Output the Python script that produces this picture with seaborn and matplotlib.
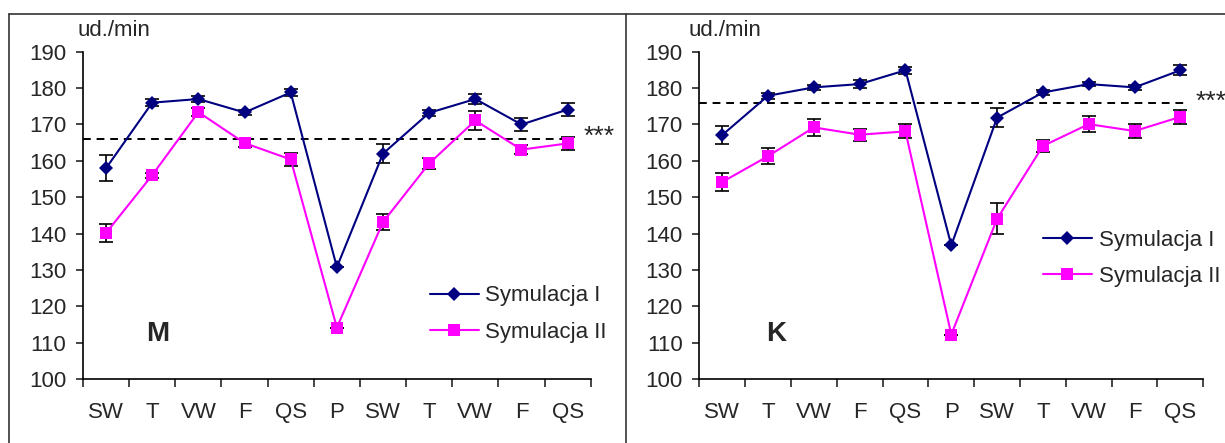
import numpy as np
import pandas as pd
import seaborn as sns
import matplotlib.pyplot as plt
from matplotlib.lines import Line2D

# categories on the x axis (same sequence for both panels)
categories = ["SW", "T", "VW", "F", "QS", "P", "SW", "T", "VW", "F", "QS"]
series_names = ["Symulacja I", "Symulacja II"]

# panel M
m_sym1 = [158.0, 176.0, 177.0, 173.3, 178.8, 130.8, 162.0, 173.2, 177.0, 170.0, 174.1]
m_sym1_err = [3.6, 0.9, 0.9, 0.8, 0.9, 0.0, 2.7, 0.9, 1.5, 1.7, 1.9]
m_sym2 = [140.2, 156.1, 173.4, 164.9, 160.4, 114.2, 143.2, 159.3, 171.1, 163.1, 164.8]
m_sym2_err = [2.5, 0.7, 1.0, 1.2, 1.8, 0.0, 2.1, 1.4, 2.5, 1.2, 1.8]
m_ref = 166.0

# panel K
k_sym1 = [167.1, 177.9, 180.2, 181.1, 184.9, 136.8, 171.9, 178.8, 181.1, 180.2, 184.9]
k_sym1_err = [2.5, 0.8, 0.6, 1.0, 1.0, 0.0, 2.7, 0.6, 0.6, 0.6, 1.4]
k_sym2 = [154.2, 161.3, 169.2, 167.2, 168.1, 112.3, 144.1, 164.1, 170.1, 168.2, 172.1]
k_sym2_err = [2.5, 2.2, 2.3, 1.6, 1.9, 0.0, 4.3, 1.6, 2.2, 1.8, 2.0]
k_ref = 176.0

colors = {"Symulacja I": "#000080", "Symulacja II": "#FF00FF"}
FONT = ["Liberation Sans", "DejaVu Sans"]
FS = 16

sns.set_style("white")
plt.rcParams['font.family'] = FONT


def make_df(s1, e1, s2, e2):
    pos = np.arange(len(categories)) + 0.5
    rows = []
    for name, vals, errs in [(series_names[0], s1, e1), (series_names[1], s2, e2)]:
        for p, v, e in zip(pos, vals, errs):
            rows.append({"pos": p, "value": v, "err": e, "series": name})
    return pd.DataFrame(rows)


def draw_panel(ax, df, ref, letter, leg_anchor, label_x, star_y, letter_x):
    # error bars first, lines and markers on top
    for name in series_names:
        d = df[df.series == name]
        ax.errorbar(d.pos, d.value, yerr=d.err, fmt='none', ecolor='black',
                    elinewidth=1.2, capsize=5, capthick=1.2, zorder=2)
    sns.lineplot(data=df, x="pos", y="value", hue="series", style="series",
                 palette=colors, markers={"Symulacja I": "D", "Symulacja II": "s"},
                 dashes=False, estimator=None, sort=False, linewidth=1.5,
                 markersize=8, markeredgewidth=0, ax=ax, zorder=3)
    for ln in ax.get_lines():
        if ln.get_marker() == "D":
            ln.set_markersize(7.5)

    ax.hlines(ref, 0, 10.6, colors='black', linestyles=(0, (4, 3)), linewidth=1.4, zorder=1)

    ax.set_xlim(0, len(categories))
    ax.set_ylim(100, 190)
    ax.set_yticks(np.arange(100, 191, 10))
    ax.set_xticks(np.arange(0, len(categories) + 1))
    ax.set_xticklabels([])
    ax.set_xticks(np.arange(len(categories)) + 0.5, minor=True)
    ax.set_xticklabels(categories, minor=True, fontsize=FS)
    ax.tick_params(axis='x', which='major', direction='out', length=6, width=1.2, bottom=True)
    ax.tick_params(axis='x', which='minor', length=0, pad=16)
    ax.tick_params(axis='y', direction='out', length=5, width=1.2, pad=7, labelsize=FS, left=True)
    ax.set_xlabel("")
    ax.set_ylabel("")
    sns.despine(ax=ax)
    for sp in ["left", "bottom"]:
        ax.spines[sp].set_color("black")
        ax.spines[sp].set_linewidth(1.2)

    ax.text(label_x, 1.048, "ud./min", transform=ax.transAxes, ha='left',
            va='baseline', fontsize=FS)
    ax.text(0.985, star_y, "***", transform=ax.transAxes, ha='left',
            va='baseline', fontsize=FS + 3, clip_on=False)
    ax.text(letter_x, 0.138, letter, transform=ax.transAxes, ha='center',
            va='center', fontsize=20, fontweight='bold')

    ax.legend(loc='center left', bbox_to_anchor=leg_anchor, frameon=False,
              fontsize=FS, borderpad=0, borderaxespad=0, handlelength=2.2,
              handletextpad=0.3, labelspacing=0.7, title=None)


fig = plt.figure(figsize=(12.25, 4.43), dpi=100)
ax1 = fig.add_axes([83 / 1225, 0.1438, 507.7 / 1225, 0.7395])
ax2 = fig.add_axes([699.3 / 1225, 0.1438, 504 / 1225, 0.7395])

draw_panel(ax1, make_df(m_sym1, m_sym1_err, m_sym2, m_sym2_err), m_ref, "M",
           (0.683, 0.199), -0.01, 0.72, 0.147)
draw_panel(ax2, make_df(k_sym1, k_sym1_err, k_sym2, k_sym2_err), k_ref, "K",
           (0.682, 0.369), -0.022, 0.826, 0.152)

# outer frame of the two pasted charts
frame_kw = dict(color='#333333', linewidth=1.2, transform=fig.transFigure)
fig.add_artist(Line2D([9 / 1225, 1], [1 - 14 / 443] * 2, **frame_kw))
fig.add_artist(Line2D([9 / 1225] * 2, [0, 1 - 14 / 443], **frame_kw))
fig.add_artist(Line2D([626 / 1225] * 2, [0, 1 - 14 / 443], **frame_kw))

fig.savefig("out.png", dpi=100)
